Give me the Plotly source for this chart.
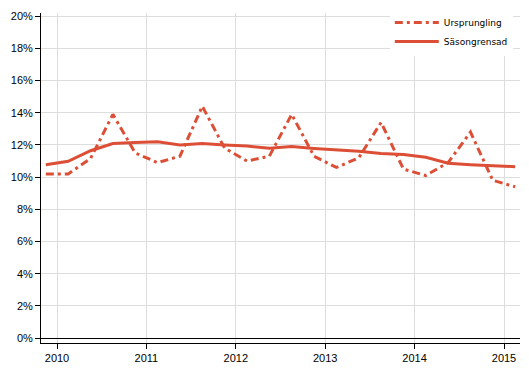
import plotly.graph_objects as go

quarters = [2009.875 + 0.25 * i for i in range(22)]
ursprunglig = [10.2, 10.2, 11.15, 13.9, 11.5, 10.9, 11.3, 14.4, 11.8, 11.0, 11.3,
               13.9, 11.3, 10.6, 11.2, 13.4, 10.5, 10.1, 10.9, 12.8, 9.8, 9.4]
sasongrensad = [10.77, 10.98, 11.64, 12.09, 12.15, 12.2, 12.0, 12.09, 12.0, 11.93, 11.8,
                11.9, 11.78, 11.7, 11.6, 11.47, 11.4, 11.23, 10.86, 10.77, 10.7, 10.65]
year_ticks = [2010, 2011, 2012, 2013, 2014, 2015]
y_ticks = list(range(0, 21, 2))

color = "#dc4f36"
fig = go.Figure()
fig.add_trace(go.Scatter(x=quarters, y=ursprunglig, mode="lines", name="Ursprungling",
                         line=dict(color=color, width=3, dash="8px,4px,3px,4px")))
fig.add_trace(go.Scatter(x=quarters, y=sasongrensad, mode="lines", name="Säsongrensad",
                         line=dict(color=color, width=3)))

fig.update_layout(
    width=529, height=378,
    margin=dict(l=41, r=9, t=12, b=35),
    plot_bgcolor="white", paper_bgcolor="white",
    font=dict(family="Liberation Sans, Arial, sans-serif", size=11, color="#000"),
    showlegend=True,
    legend=dict(x=0.985, y=1.012, xanchor="right", yanchor="top", bgcolor="white",
                font=dict(size=9, family="DejaVu Sans, sans-serif"),
                itemwidth=44, tracegroupgap=0),
    xaxis=dict(range=[2009.821, 2015.179], tickvals=year_ticks,
               ticktext=[str(y) for y in year_ticks], automargin=False,
               showgrid=True, gridcolor="#dddddd", gridwidth=1,
               showline=True, linecolor="black", linewidth=1,
               ticks="outside", ticklen=5, tickcolor="black", zeroline=False),
    yaxis=dict(range=[-0.31, 20.2], tickvals=y_ticks,
               ticktext=[f"{v}%" for v in y_ticks], automargin=False,
               showgrid=True, gridcolor="#dddddd", gridwidth=1,
               showline=True, linecolor="black", linewidth=1,
               ticks="outside", ticklen=5, tickcolor="black",
               zeroline=True, zerolinecolor="black", zerolinewidth=1),
)
fig.write_html("out.html", config={"displayModeBar": False},
               post_script="document.body.style.margin='0';document.body.style.overflow='hidden';")
